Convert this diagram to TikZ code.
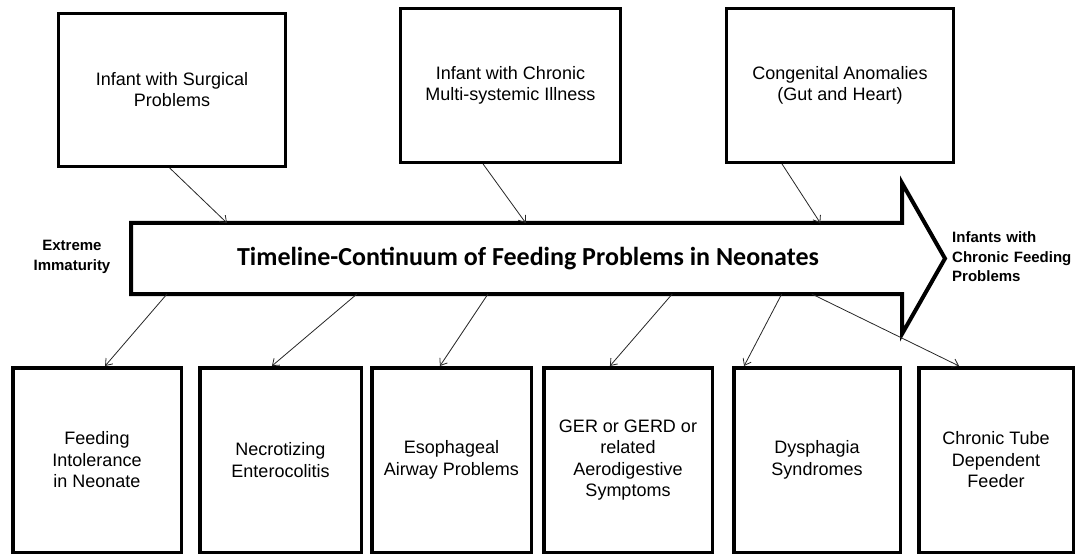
\documentclass[tikz,border=0pt]{standalone}
\usepackage{fontspec}
\setmainfont{Liberation Sans}
\newfontfamily\titlefont{Carlito}
\usetikzlibrary{calc,arrows.meta}
\begin{document}
\begin{tikzpicture}[x=1pt,y=-1pt,
  topbox/.style={draw, line width=3pt, inner sep=4pt, align=center,
    font=\fontsize{18}{21}\selectfont},
  botbox/.style={draw, line width=3.5pt, inner sep=4pt, align=center,
    minimum height=184.5pt, font=\fontsize{18}{21.5}\selectfont},
  sidelabel/.style={font=\bfseries\fontsize{15}{19.5}\selectfont, inner sep=0pt},
  conn/.style={line width=0.8pt, draw=black!85, -{Straight Barb[length=6pt,width=9pt,line width=0.8pt]}},
  timeline/.style={draw, line width=4pt, line join=miter, fill=white}
]
\useasboundingbox (0,0) rectangle (1079,556);

% top boxes
\node[topbox, minimum width=227pt, minimum height=153pt] (t1) at (172,90) {Infant with Surgical\\Problems};
\node[topbox, minimum width=220pt, minimum height=154pt] (t2) at (510.5,85.5) {Infant with Chronic\\Multi-systemic Illness};
\node[topbox, minimum width=227pt, minimum height=154pt] (t3) at (840,85.5) {Congenital Anomalies\\(Gut and Heart)};

% timeline arrow
\node[minimum width=771pt, minimum height=71pt, inner sep=0pt, outer sep=0pt] (body) at (516.5,258.5) {};
\coordinate (htop) at ($(body.north east)+(0,-40)$);
\coordinate (tip) at ($(body.east)+(43,0)$);
\coordinate (hbot) at ($(body.south east)+(0,40)$);
\draw[timeline] (body.north west) -- (body.north east) -- (htop) -- (tip) -- (hbot) -- (body.south east) -- (body.south west) -- cycle;
\node[font=\titlefont\bfseries\fontsize{26}{30}\selectfont, inner sep=0pt] (title) at (528,259) {Timeline-Continuum of Feeding Problems in Neonates};

% side labels
\node[sidelabel, align=center] (start) at (72,257) {Extreme\\Immaturity};
\node[sidelabel, align=left, anchor=west] (end) at (952,257) {Infants\hspace{5pt}with\\Chronic\hspace{5pt}Feeding\\Problems};

% bottom boxes
\node[botbox, minimum width=168.5pt] (b1) at (97,460) {Feeding\\Intolerance\\in Neonate};
\node[botbox, minimum width=161.5pt] (b2) at (280.5,460) {Necrotizing\\Enterocolitis};
\node[botbox, minimum width=159.5pt] (b3) at (451.5,460) {Esophageal\\Airway Problems};
\node[botbox, minimum width=168.5pt] (b4) at (628,460) {GER or GERD or\\related\\Aerodigestive\\Symptoms};
\node[botbox, minimum width=166.5pt] (b5) at (817,460) {Dysphagia\\Syndromes};
\node[botbox, minimum width=154.5pt] (b6) at (996,460) {Chronic Tube\\Dependent\\Feeder};

% connectors from top boxes
\draw[conn] ($(t1.south west)!0.49!(t1.south east)$) -- ($(body.north west)!0.1245!(body.north east)$);
\draw[conn] ($(t2.south west)!0.377!(t2.south east)$) -- ($(body.north west)!0.512!(body.north east)$);
\draw[conn] ($(t3.south west)!0.248!(t3.south east)$) -- ($(body.north west)!0.894!(body.north east)$);

% connectors to bottom boxes
\draw[conn] ($(body.south west)!0.0467!(body.south east)$) -- ($(b1.north west)!0.547!(b1.north east)$);
\draw[conn] ($(body.south west)!0.293!(body.south east)$) -- ($(b2.north west)!0.448!(b2.north east)$);
\draw[conn] ($(body.south west)!0.463!(body.south east)$) -- ($(b3.north west)!0.429!(b3.north east)$);
\draw[conn] ($(body.south west)!0.702!(body.south east)$) -- ($(b4.north west)!0.395!(b4.north east)$);
\draw[conn] ($(body.south west)!0.844!(body.south east)$) -- ($(b5.north west)!0.071!(b5.north east)$);
\draw[conn] ($(body.south west)!0.883!(body.south east)$) -- ($(b6.north west)!0.266!(b6.north east)$);
\end{tikzpicture}
\end{document}
